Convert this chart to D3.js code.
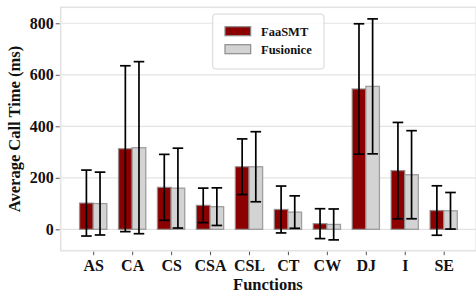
<!DOCTYPE html>
<html>
<head>
<meta charset="utf-8">
<script src="https://cdn.jsdelivr.net/npm/d3@7"></script>
<style>
  html, body { margin: 0; padding: 0; background: #fff; }
  svg { display: block; }
  svg text { font-family: 'Liberation Serif', 'Times New Roman', Times, 'DejaVu Serif', serif !important; font-weight: bold; }
</style>
</head>
<body>
<div id="chart"></div>
<script>
// functions on the x axis
const functions = ['AS', 'CA', 'CS', 'CSA', 'CSL', 'CT', 'CW', 'DJ', 'I', 'SE'];
// mean call time (ms) and std for each system
const faasmtMean = [102, 313, 163, 93, 243, 77, 22, 545, 228, 73];
const faasmtStd = [128, 322, 128, 67, 108, 91, 58, 253, 187, 96];
const fusioniceMean = [100, 317, 160, 88, 243, 67, 19, 555, 212, 72];
const fusioniceStd = [122, 334, 155, 73, 136, 63, 60, 262, 171, 71];
const yTicks = [0, 200, 400, 600, 800];

const series = [
  { name: 'FaaSMT', mean: faasmtMean, std: faasmtStd, fill: '#8b0000', offset: -0.175 },
  { name: 'Fusionice', mean: fusioniceMean, std: fusioniceStd, fill: '#d3d3d3', offset: 0.175 }
];

const W = 476, H = 293;
const plot = { left: 60.7, right: 476.2, top: 7.3, bottom: 250.7 };
const barW = 0.35;

const svg = d3.select('#chart').append('svg')
  .attr('width', W).attr('height', H);

const x = d3.scaleLinear().domain([-0.835, functions.length - 1 + 0.835]).range([plot.left, plot.right]);
const y = d3.scaleLinear().domain([-83, 862]).range([plot.bottom, plot.top]);

// plot frame
svg.append('rect')
  .attr('x', plot.left).attr('y', plot.top)
  .attr('width', plot.right - plot.left).attr('height', plot.bottom - plot.top)
  .attr('fill', '#fff').attr('stroke', '#e3e3e3').attr('stroke-width', 1.6);

// grid
svg.append('g').selectAll('line').data(yTicks).enter().append('line')
  .attr('x1', plot.left).attr('x2', plot.right)
  .attr('y1', d => y(d)).attr('y2', d => y(d))
  .attr('stroke', '#e3e3e3').attr('stroke-width', 1.2);

// y axis
svg.append('g')
  .attr('transform', `translate(${plot.left},0)`)
  .call(d3.axisLeft(y).tickValues(yTicks).tickSize(4).tickPadding(3))
  .call(g => g.select('.domain').remove())
  .call(g => g.selectAll('line').attr('stroke', '#555').attr('transform', 'translate(-1,0)'))
  .call(g => g.selectAll('text').attr('font-size', 16).attr('fill', '#111'));

// x axis
svg.append('g')
  .attr('transform', `translate(0,${plot.bottom})`)
  .call(d3.axisBottom(x).tickValues(d3.range(functions.length)).tickFormat(i => functions[i]).tickSize(3.5).tickPadding(5))
  .call(g => g.select('.domain').remove())
  .call(g => g.selectAll('line').attr('stroke', '#555').attr('transform', 'translate(0,1)'))
  .call(g => g.selectAll('text').attr('font-size', 16).attr('fill', '#111'));

// bars
series.forEach(s => {
  svg.append('g').selectAll('rect').data(s.mean).enter().append('rect')
    .attr('x', (d, i) => x(i + s.offset - barW / 2))
    .attr('width', x(barW) - x(0))
    .attr('y', d => y(d))
    .attr('height', d => y(0) - y(d))
    .attr('fill', s.fill)
    .attr('stroke', '#8c8c8c').attr('stroke-opacity', 0.8).attr('stroke-width', 1.3);
});

// error bars
series.forEach(s => {
  const g = svg.append('g').attr('stroke', '#000').attr('stroke-width', 1.7);
  s.mean.forEach((m, i) => {
    const cx = x(i + s.offset);
    const lo = y(m - s.std[i]), hi = y(m + s.std[i]);
    g.append('line').attr('x1', cx).attr('x2', cx).attr('y1', lo).attr('y2', hi);
    g.append('line').attr('x1', cx - 5.3).attr('x2', cx + 5.3).attr('y1', lo).attr('y2', lo);
    g.append('line').attr('x1', cx - 5.3).attr('x2', cx + 5.3).attr('y1', hi).attr('y2', hi);
  });
});

// axis labels
svg.append('text')
  .attr('x', (plot.left + plot.right) / 2 - 0.5).attr('y', 290)
  .attr('text-anchor', 'middle').attr('font-size', 16.5).attr('fill', '#111')
  .text('Functions');

svg.append('text')
  .attr('transform', `translate(20,${(plot.top + plot.bottom) / 2}) rotate(-90)`)
  .attr('text-anchor', 'middle').attr('font-size', 16.5).attr('fill', '#111')
  .text('Average Call Time (ms)');

// legend
const lg = svg.append('g').attr('transform', 'translate(212.7,14)');
lg.append('rect')
  .attr('width', 111.3).attr('height', 55).attr('rx', 3)
  .attr('fill', '#fff').attr('fill-opacity', 0.85)
  .attr('stroke', '#d6d6d6').attr('stroke-width', 1);
series.forEach((s, i) => {
  lg.append('rect')
    .attr('x', 12.3).attr('y', 12.7 + i * 18)
    .attr('width', 25.7).attr('height', 9)
    .attr('fill', s.fill).attr('stroke', '#8c8c8c').attr('stroke-width', 1.2);
  lg.append('text')
    .attr('x', 48.3).attr('y', 22 + i * 18)
    .attr('font-size', 12.5).attr('fill', '#111')
    .text(s.name);
});
</script>
</body>
</html>
